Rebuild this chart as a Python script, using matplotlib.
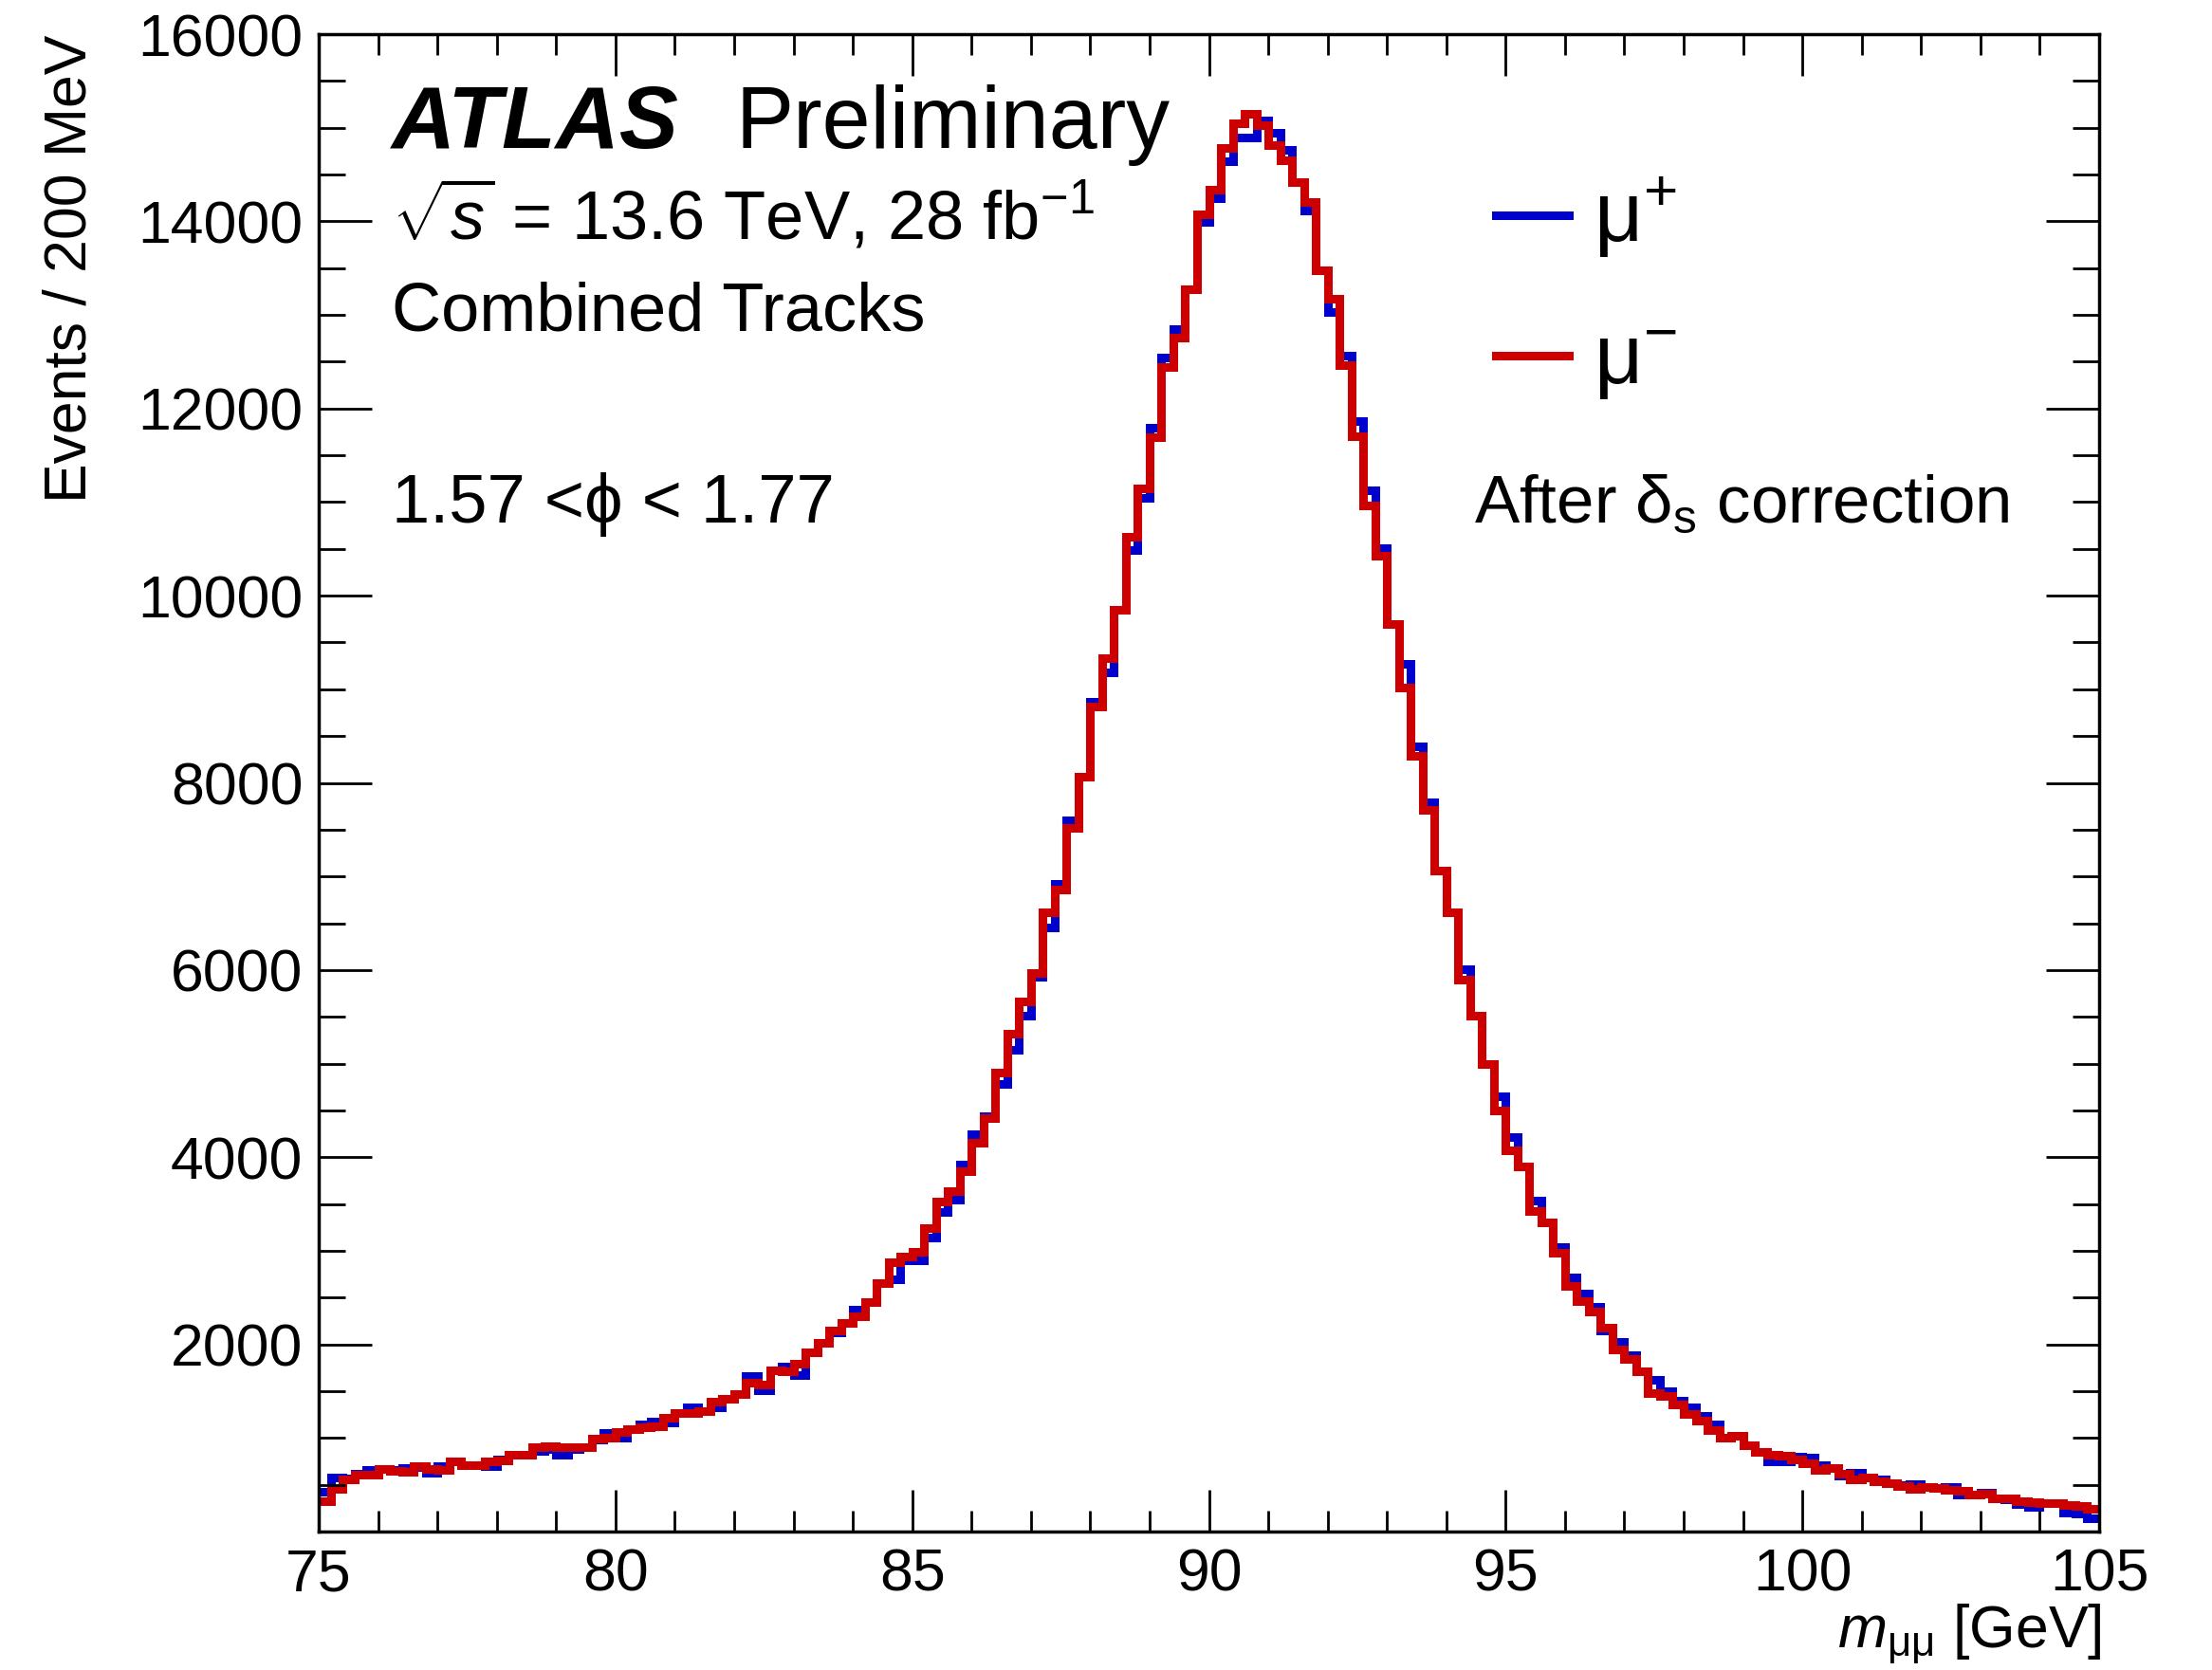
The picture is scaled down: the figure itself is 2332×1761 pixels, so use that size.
import numpy as np
import matplotlib
matplotlib.use("Agg")
import matplotlib.pyplot as plt
from matplotlib.lines import Line2D
from matplotlib.ticker import MultipleLocator

plt.rcParams['font.family'] = ['Liberation Sans', 'DejaVu Sans']
plt.rcParams['mathtext.fontset'] = 'custom'
plt.rcParams['mathtext.rm'] = 'Liberation Sans'
plt.rcParams['mathtext.it'] = 'Liberation Sans:italic'
plt.rcParams['mathtext.bf'] = 'Liberation Sans:bold'

# 150 bins of 200 MeV from 75 to 105 GeV
bin_lo, bin_hi, n_bins = 75.0, 105.0, 150

# mu- (red)
mu_minus = [
    # 75 - 80
    324, 459, 560, 611, 611, 672, 650, 638, 695, 670, 661, 746, 712, 712, 746,
    763, 820, 820, 900, 915, 898, 898, 898, 989, 1000,
    # 80 - 85
    1060, 1091, 1118, 1126, 1212, 1270, 1270, 1287, 1388, 1421, 1472, 1590, 1573,
    1725, 1709, 1793, 1911, 2013, 2148, 2232, 2300, 2451, 2654, 2874, 2941,
    # 85 - 87.4
    2990, 3239, 3522, 3634, 3846, 4157, 4417, 4900, 5321, 5660, 5970, 6612,
    # 87.4 - 90.2
    6860, 7522, 8068, 8815, 9333, 9850, 10626, 11143, 11690, 12440, 12753, 13270,
    14075, 14334,
    # 90.2 - 92.6
    14780, 15044, 15144, 15029, 14813, 14648, 14417, 14202, 13479, 13169, 12466,
    11700,
    # 92.6 - 95.2
    10963, 10424, 9693, 9015, 8286, 7709, 7061, 6619, 5893, 5513, 4994, 4498, 4072,
    # 95.2 - 100
    3897, 3424, 3306, 2975, 2621, 2462, 2350, 2181, 1945, 1844, 1709, 1482, 1449,
    1360, 1253, 1185, 1084, 1000, 1023, 922, 848, 820, 807, 773,
    # 100 - 105
    730, 662, 679, 618, 561, 577, 537, 517, 483, 459, 476, 470, 442, 436, 392,
    402, 358, 358, 324, 314, 307, 300, 280, 273, 246,
]

# mu+ (blue)
mu_plus = [
    # 75 - 80
    425, 577, 570, 620, 661, 670, 660, 678, 690, 628, 700, 746, 712, 712, 695,
    770, 820, 820, 864, 880, 820, 880, 900, 982, 1050,
    # 80 - 85
    1000, 1091, 1150, 1180, 1170, 1270, 1326, 1287, 1326, 1421, 1472, 1663, 1505,
    1725, 1760, 1675, 1911, 2013, 2130, 2232, 2375, 2451, 2654, 2700, 2900,
    # 85 - 87.4
    2900, 3140, 3414, 3549, 3920, 4245, 4440, 4785, 5150, 5510, 5930, 6450,
    # 87.4 - 90.2
    6920, 7600, 8068, 8870, 9180, 9850, 10485, 11050, 11790, 12540, 12850, 13270,
    13990, 14250,
    # 90.2 - 92.6
    14640, 14900, 14900, 15080, 14946, 14760, 14417, 14120, 13479, 13027, 12560,
    11870,
    # 92.6 - 95.2
    11130, 10508, 9693, 9270, 8388, 7790, 7061, 6619, 6007, 5513, 4994, 4650, 4214,
    # 95.2 - 100
    3897, 3539, 3306, 3042, 2714, 2542, 2400, 2150, 2030, 1880, 1709, 1624, 1497,
    1394, 1327, 1236, 1145, 1000, 1023, 922, 848, 753, 750, 797,
    # 100 - 105
    795, 713, 679, 595, 628, 577, 561, 517, 500, 510, 476, 470, 476, 392, 392,
    415, 358, 340, 290, 267, 307, 300, 206, 189, 139,
]

y_ticks = [2000, 4000, 6000, 8000, 10000, 12000, 14000, 16000]
x_ticks = [75, 80, 85, 90, 95, 100, 105]

BLUE = "#0000cc"
RED = "#cc0000"
LW = 6.5

edges = np.linspace(bin_lo, bin_hi, n_bins + 1)

fig = plt.figure(figsize=(23.32, 17.61), dpi=100)
ax = fig.add_axes([336 / 2332, 1 - 1615 / 1761, 1877 / 2332, 1579 / 1761])

ax.stairs(mu_plus, edges, color=BLUE, linewidth=LW, baseline=None)
ax.stairs(mu_minus, edges, color=RED, linewidth=LW, baseline=None)

ax.set_xlim(bin_lo, bin_hi)
ax.set_ylim(0, 16000)
ax.set_xticks(x_ticks)
ax.set_yticks(y_ticks)
ax.xaxis.set_minor_locator(MultipleLocator(1))
ax.yaxis.set_minor_locator(MultipleLocator(500))

ax.tick_params(which="both", direction="in", top=True, right=True,
               labelsize=45, width=2)
ax.tick_params(axis="x", which="major", length=32, pad=12)
ax.tick_params(axis="x", which="minor", length=16)
ax.tick_params(axis="y", which="major", length=40, pad=12)
ax.tick_params(axis="y", which="minor", length=20)
for s in ax.spines.values():
    s.set_linewidth(2.5)

# axis titles
fig.text(74 / 2332, 1 - 37 / 1761, "Events / 200 MeV", rotation=90,
         ha="center", va="top", fontsize=45)
fig.text(2216 / 2332, 1 - 1737 / 1761, r"$m_{\mathrm{μμ}}$ [GeV]",
         ha="right", va="baseline", fontsize=45)

# labels
T = ax.transAxes
ax.text(0.041, 0.924, "ATLAS", transform=T, fontsize=67, fontweight="bold",
        fontstyle="italic", ha="left", va="baseline")
ax.text(0.234, 0.924, "Preliminary", transform=T, fontsize=66,
        ha="left", va="baseline")
ax.text(0.041, 0.863, r"$\sqrt{s}$ = 13.6 TeV, 28 fb$^{-1}$", transform=T,
        fontsize=52, ha="left", va="baseline")
ax.text(0.041, 0.802, "Combined Tracks", transform=T, fontsize=52,
        ha="left", va="baseline")
ax.text(0.041, 0.674, "1.57 <ϕ < 1.77", transform=T, fontsize=52,
        ha="left", va="baseline", family=["Liberation Sans", "DejaVu Sans"])
ax.text(0.649, 0.674, r"After δ$_{\mathrm{s}}$ correction", transform=T,
        fontsize=51, ha="left", va="baseline")

# legend drawn by hand
for yl, ytxt, col, lab in [(0.879, 0.861, BLUE, r"μ$^{+}$"),
                           (0.785, 0.767, RED, r"μ$^{-}$")]:
    ax.add_line(Line2D([0.661, 0.702], [yl, yl], transform=T, color=col,
                       linewidth=LW))
    ax.text(0.716, ytxt, lab, transform=T, fontsize=64, ha="left",
            va="baseline")

fig.savefig("out.png", dpi=100)
